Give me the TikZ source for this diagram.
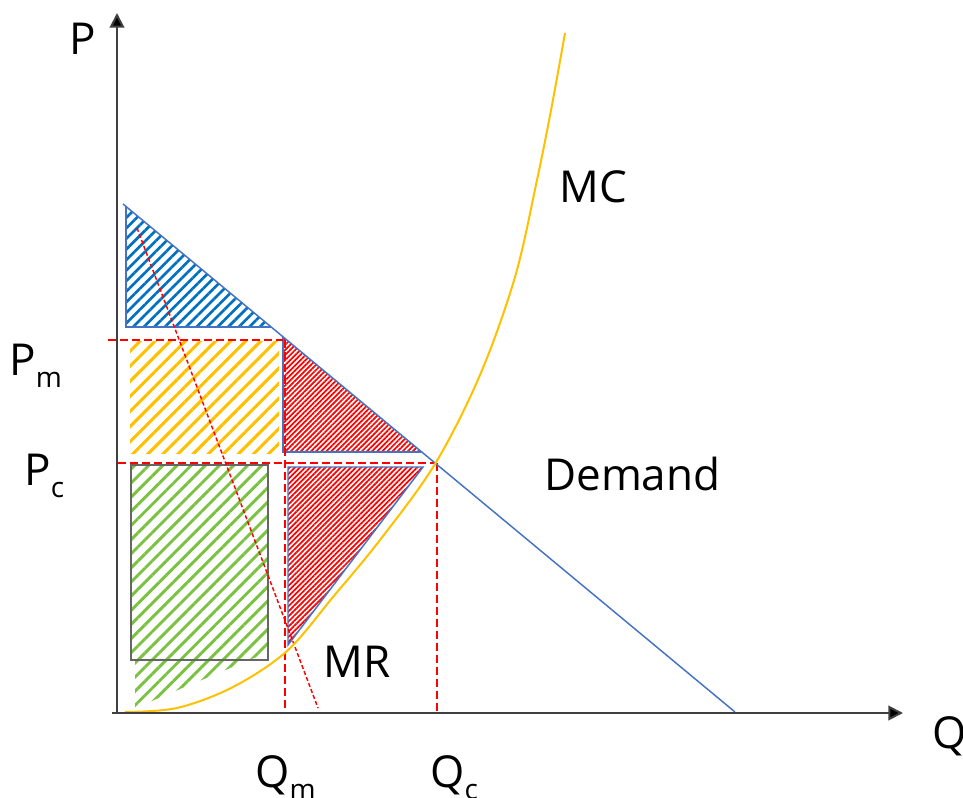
\documentclass[tikz,border=0pt]{standalone}
\usepackage{fontspec}
\setmainfont{Open Sans}
\usetikzlibrary{arrows.meta,patterns.meta}
\definecolor{dblue}{HTML}{4472C4}
\definecolor{hblue}{HTML}{0070C0}
\definecolor{horange}{HTML}{FFC000}
\definecolor{hgreen}{HTML}{7CC242}
\definecolor{hred}{HTML}{FF0000}
\definecolor{axgray}{HTML}{404040}
\newcommand{\lab}[2]{#1\raisebox{-9.5pt}{\fontsize{21pt}{21pt}\selectfont #2}}
\tikzset{
  axis/.style={draw=axgray,line width=1.5pt,-{Triangle[length=11pt,width=11pt,fill=black]}},
  bluehatch/.style={pattern={Lines[angle=45,distance=5.6pt,line width=2pt]},pattern color=hblue},
  orangehatch/.style={pattern={Lines[angle=45,distance=8pt,line width=2.3pt]},pattern color=horange},
  greenhatch/.style={pattern={Lines[angle=45,distance=7.5pt,line width=2.2pt]},pattern color=hgreen},
  redhatch/.style={pattern={Lines[angle=45,distance=2.7pt,line width=1.3pt]},pattern color=hred},
  tri/.style={draw=dblue,line width=1.1pt,line join=miter},
  guide/.style={draw=hred,line width=1.1pt,dash pattern=on 6pt off 3pt},
  mrline/.style={draw=hred,line width=1.1pt,dash pattern=on 3pt off 1.8pt},
  lbl/.style={anchor=base west,inner sep=0pt,font=\fontsize{33pt}{33pt}\selectfont}
}
\begin{document}
\begin{tikzpicture}[x=0.75pt,y=-0.75pt]
\useasboundingbox (0,0) rectangle (963,798);
% named points
\coordinate (O) at (117,712);
\coordinate (Ystart) at (117,713);
\coordinate (Ytip) at (117,13);
\coordinate (Xstart) at (112,713);
\coordinate (Xtip) at (903,713);
\coordinate (D1) at (123,204);
\coordinate (D2) at (735,712);
\coordinate (E) at (435,463);
% hatched areas
\path[bluehatch] (126,207) -- (126,327) -- (271,327) -- cycle;
\path[orangehatch] (130,342) rectangle (279,453);
\path[redhatch] (283,337) -- (283,452) -- (421,452) -- cycle;
\path[redhatch] (288,467) -- (423,467) -- (288,645) -- cycle;
\path[greenhatch] (131,465) -- (268,465) -- (268,650) -- (273,650) -- (135,708) -- (135,660) -- (131,660) -- cycle;
% outlines
\draw[tri] (126,207) -- (126,327) -- (271,327);
\draw[tri] (283,337) -- (283,452) -- (421,452);
\draw[tri] (288,467) -- (423,467) -- (288,645) -- cycle;
\draw[draw=axgray!80,line width=1.1pt] (131,465) rectangle (268,660);
% guide lines
\draw[guide] (108,340) -- (283,340);
\draw[guide] (118,463) -- (E);
\draw[guide] (285,340) -- (285,712);
\draw[guide] (437,463) -- (437,712);
\draw[mrline] (137,228) -- (318,708);
% demand and MC
\draw[draw=dblue,line width=1.1pt] (D1) -- (D2);
\draw[draw=horange,line width=1.5pt] plot[smooth,tension=0.55] coordinates {(125,712) (177,708) (233,687) (287,651) (333,597) (380,540) (435,464) (480,375) (515,277) (537,180) (552,105) (565,33)};
% axes
\draw[axis] (Ystart) -- (Ytip);
\draw[axis] (Xstart) -- (Xtip);
% labels
\node[lbl] (P) at (69,55) {P};
\node[lbl] (Q) at (932,748) {Q};
\node[lbl] (MC) at (559,203) {MC};
\node[lbl] (Dem) at (544,490) {Demand};
\node[lbl] (MR) at (323,677) {MR};
\node[lbl] (Pm) at (9,375) {\lab{P}{m}};
\node[lbl] (Pc) at (24,485) {\lab{P}{c}};
\node[lbl] (Qm) at (255,787) {\lab{Q}{m}};
\node[lbl] (Qc) at (430,787) {\lab{Q}{c}};
\end{tikzpicture}
\end{document}
